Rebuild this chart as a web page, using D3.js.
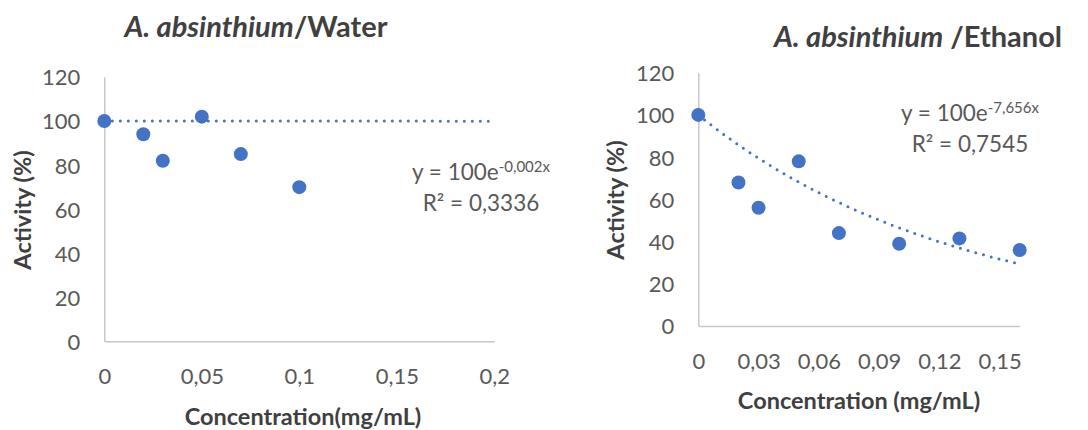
<!DOCTYPE html>
<html>
<head>
<meta charset="utf-8">
<script src="https://cdn.jsdelivr.net/npm/d3@7"></script>
<style>
  body { margin: 0; background: #fff; }
  text { font-family: Lato, "Open Sans", sans-serif; }
</style>
</head>
<body>
<div id="chart"></div>
<script>
// data
var waterConc = [0, 0.02, 0.03, 0.05, 0.07, 0.1];
var waterAct = [100, 94, 82, 102, 85, 70];
var ethConc = [0, 0.02, 0.03, 0.05, 0.07, 0.1, 0.13, 0.16];
var ethAct = [100, 68, 56, 78, 44, 39, 41.5, 36];
var yTicks = [0, 20, 40, 60, 80, 100, 120];
var waterXTicks = [0, 0.05, 0.1, 0.15, 0.2];
var ethXTicks = [0, 0.03, 0.06, 0.09, 0.12, 0.15];

var W = 1088, H = 430;
var blue = "#4472C4";
var grey = "#595959";

var svg = d3.select("#chart").append("svg")
    .attr("width", W)
    .attr("height", H);

var comma = function (d) { return String(d).replace(".", ","); };

function drawPanel(p) {
    var x = d3.scaleLinear().domain(p.xDomain).range([p.left, p.right]);
    var y = d3.scaleLinear().domain([0, 120]).range([p.bottom, p.top]);

    // axes
    var yAxis = svg.append("g")
        .attr("transform", "translate(" + p.left + ",0)")
        .call(d3.axisLeft(y).tickValues(yTicks).tickSize(0).tickPadding(24));
    var xAxis = svg.append("g")
        .attr("transform", "translate(0," + p.bottom + ")")
        .call(d3.axisBottom(x).tickValues(p.xTicks).tickSize(0).tickPadding(27).tickFormat(comma));

    [xAxis, yAxis].forEach(function (a) {
        a.select(".domain").attr("stroke", "#c8c8c8").attr("stroke-width", 1.5);
        a.selectAll("text")
            .attr("fill", grey)
            .style("font-size", "22px");
    });
    yAxis.selectAll("text").attr("dy", "0.36em");

    // trendline y = 100 e^(k x)
    var xs = d3.range(0, 101).map(function (i) { return p.xDomain[1] * i / 100; });
    var line = d3.line()
        .x(function (d) { return x(d); })
        .y(function (d) { return y(100 * Math.exp(p.k * d)); });
    svg.append("path")
        .datum(xs)
        .attr("d", line)
        .attr("fill", "none")
        .attr("stroke", blue)
        .attr("stroke-width", 3)
        .attr("stroke-linecap", "round")
        .attr("stroke-dasharray", "0,8");

    // points
    svg.append("g").selectAll("circle")
        .data(p.xs)
        .enter()
        .append("circle")
        .attr("cx", function (d) { return x(d); })
        .attr("cy", function (d, i) { return y(p.ys[i]); })
        .attr("r", 7)
        .attr("fill", blue);

    // title
    var t = svg.append("text")
        .attr("x", p.titleX)
        .attr("y", p.titleY)
        .attr("text-anchor", "middle")
        .attr("fill", "#404040")
        .style("font-size", "29px")
        .style("font-weight", "bold");
    t.append("tspan").style("font-style", "italic").text("A. absinthium");
    t.append("tspan").text(p.titleRest);

    // axis titles
    svg.append("text")
        .attr("x", p.xLabelX)
        .attr("y", p.xLabelY)
        .attr("text-anchor", "middle")
        .attr("fill", "#404040")
        .style("font-size", "23.5px")
        .style("font-weight", "bold")
        .text(p.xLabel);

    svg.append("text")
        .attr("transform", "translate(" + p.yLabelX + "," + p.yLabelY + ") rotate(-90)")
        .attr("text-anchor", "middle")
        .attr("fill", "#404040")
        .style("font-size", "23.5px")
        .style("font-weight", "bold")
        .text("Activity (%)");

    // equation
    var eq = svg.append("text")
        .attr("x", p.eqX)
        .attr("y", p.eqY)
        .attr("text-anchor", "middle")
        .attr("fill", grey)
        .style("font-size", "22.5px");
    eq.append("tspan").text("y = 100e");
    eq.append("tspan").attr("dy", "-8").style("font-size", "15px").text(p.expo);
    svg.append("text")
        .attr("x", p.eqX)
        .attr("y", p.eqY + 31)
        .attr("text-anchor", "middle")
        .attr("fill", grey)
        .style("font-size", "22.5px")
        .text(p.r2);
}

drawPanel({
    xs: waterConc, ys: waterAct, xTicks: waterXTicks, xDomain: [0, 0.2],
    left: 104.3, right: 494.3, top: 77, bottom: 341.3,
    k: -0.002,
    titleX: 256, titleY: 37, titleRest: "/Water",
    xLabel: "Concentration(mg/mL)", xLabelX: 303, xLabelY: 425,
    yLabelX: 31, yLabelY: 210,
    eqX: 481, eqY: 180, expo: "-0,002x", r2: "R² = 0,3336"
});

drawPanel({
    xs: ethConc, ys: ethAct, xTicks: ethXTicks, xDomain: [0, 0.16],
    left: 698.3, right: 1019.7, top: 72.7, bottom: 326,
    k: -7.656,
    titleX: 918, titleY: 47, titleRest: " /Ethanol",
    xLabel: "Concentration (mg/mL)", xLabelX: 859, xLabelY: 409,
    yLabelX: 624, yLabelY: 200,
    eqX: 970, eqY: 121, expo: "-7,656x", r2: "R² = 0,7545"
});
</script>
</body>
</html>
